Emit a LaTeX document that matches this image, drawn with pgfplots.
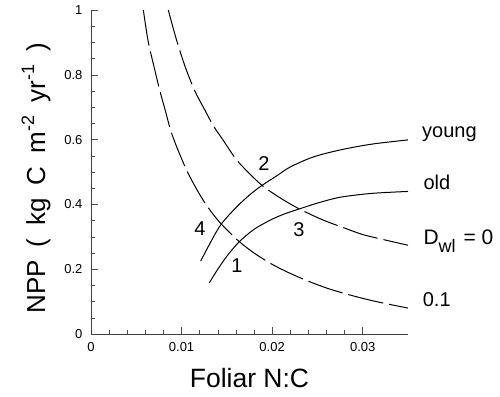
\documentclass[border=0pt]{standalone}
\usepackage{fontspec}
\setmainfont{Liberation Sans}
\usepackage{pgfplots}
\pgfplotsset{compat=1.18}
\newcommand{\sps}[1]{\raisebox{0.42em}{\fontsize{18}{20}\selectfont #1}}
\begin{document}
\begin{tikzpicture}[x=1pt,y=1pt]
\path[use as bounding box] (0,0) rectangle (500,396);
\begin{axis}[
  at={(91pt,62pt)}, anchor=south west,
  scale only axis, width=317pt, height=324pt,
  xmin=0, xmax=0.035, ymin=0, ymax=1,
  axis x line=bottom, axis y line=left,
  axis line style={-, black!75, line width=0.7pt},
  tick align=inside,
  scaled x ticks=false, scaled y ticks=false,
  xtick={0,0.01,0.02,0.03}, xticklabels={0,0.01,0.02,0.03},
  minor x tick num=4,
  ytick={0,0.2,0.4,0.6,0.8,1}, yticklabels={0,0.2,0.4,0.6,0.8,1},
  minor y tick num=3,
  major tick length=7pt, minor tick length=4pt,
  every tick/.style={black!70, line width=0.5pt},
  /pgf/number format/assume math mode=true,
  xticklabel style={font=\fontsize{13}{15}\selectfont, yshift=-5pt},
  yticklabel style={font=\fontsize{13}{15}\selectfont, xshift=-5pt},
  xlabel={Foliar N:C},
  ylabel={NPP\hspace{0.5em}(\hspace{0.5em}kg\hspace{0.5em}C\hspace{0.5em}m\sps{-2}\hspace{0.5em}yr\sps{-1}\hspace{0.5em})},
  xlabel style={font=\fontsize{26.5}{29}\selectfont, at={(axis description cs:0.5,-0.1636)}, anchor=base},
  ylabel style={font=\fontsize{26}{29}\selectfont, at={(axis description cs:-0.145,0.48)}, anchor=base, rotate=0},
  clip=false,
]
% D_wl = 0 (dashed)
\addplot[black, line width=1pt, smooth, dash pattern=on 36pt off 6pt] coordinates {
(0.00853,1.000) (0.0095,0.902) (0.0105,0.817) (0.0115,0.748) (0.0125,0.695)
(0.0135,0.643) (0.0145,0.602) (0.016,0.540) (0.0175,0.495) (0.019,0.456)
(0.021,0.418) (0.023,0.386) (0.0256,0.352) (0.028,0.327) (0.030,0.307)
(0.0325,0.290) (0.035,0.274)};
% D_wl = 0.1 (dashed)
\addplot[black, line width=1pt, smooth, dash pattern=on 36pt off 6pt] coordinates {
(0.00578,1.000) (0.0063,0.905) (0.007,0.820) (0.0076,0.751) (0.0082,0.690)
(0.0088,0.628) (0.0095,0.575) (0.0105,0.509) (0.0115,0.455) (0.0125,0.408)
(0.0135,0.369) (0.0145,0.336) (0.0163,0.287) (0.018,0.250) (0.020,0.215)
(0.022,0.187) (0.024,0.163) (0.026,0.142) (0.028,0.125) (0.030,0.110)
(0.032,0.097) (0.035,0.080)};
% young (solid)
\addplot[black, line width=1pt, smooth] coordinates {
(0.01211,0.225) (0.0132,0.283) (0.01435,0.338) (0.016,0.390) (0.0175,0.429)
(0.01885,0.458) (0.0205,0.488) (0.02197,0.515) (0.0245,0.546) (0.0275,0.568)
(0.031,0.586) (0.035,0.599)};
% old (solid)
\addplot[black, line width=1pt, smooth] coordinates {
(0.01306,0.158) (0.014,0.200) (0.015,0.240) (0.01634,0.284) (0.018,0.323)
(0.01976,0.351) (0.0213,0.370) (0.02289,0.385) (0.025,0.404) (0.0275,0.422)
(0.031,0.434) (0.035,0.440)};
% curve labels
\node[anchor=base west, inner sep=0pt, font=\fontsize{20}{22}\selectfont] at (axis cs:0.03655,0.606) {young};
\node[anchor=base west, inner sep=0pt, font=\fontsize{20}{22}\selectfont] at (axis cs:0.03669,0.445) {old};
\node[anchor=base west, inner sep=0pt, font=\fontsize{21}{22}\selectfont] at (axis cs:0.03669,0.277) {D\raisebox{-8pt}{\fontsize{18}{20}\selectfont wl}\hspace{0.1em} = 0};
\node[anchor=base west, inner sep=0pt, font=\fontsize{20}{22}\selectfont] at (axis cs:0.03662,0.084) {0.1};
% intersection numbers
\node[inner sep=0pt, font=\fontsize{20}{22}\selectfont] at (axis cs:0.0191,0.526) {2};
\node[inner sep=0pt, font=\fontsize{20}{22}\selectfont] at (axis cs:0.02297,0.323) {3};
\node[inner sep=0pt, font=\fontsize{20}{22}\selectfont] at (axis cs:0.01203,0.326) {4};
\node[inner sep=0pt, font=\fontsize{20}{22}\selectfont] at (axis cs:0.01612,0.212) {1};
\end{axis}
\end{tikzpicture}
\end{document}
